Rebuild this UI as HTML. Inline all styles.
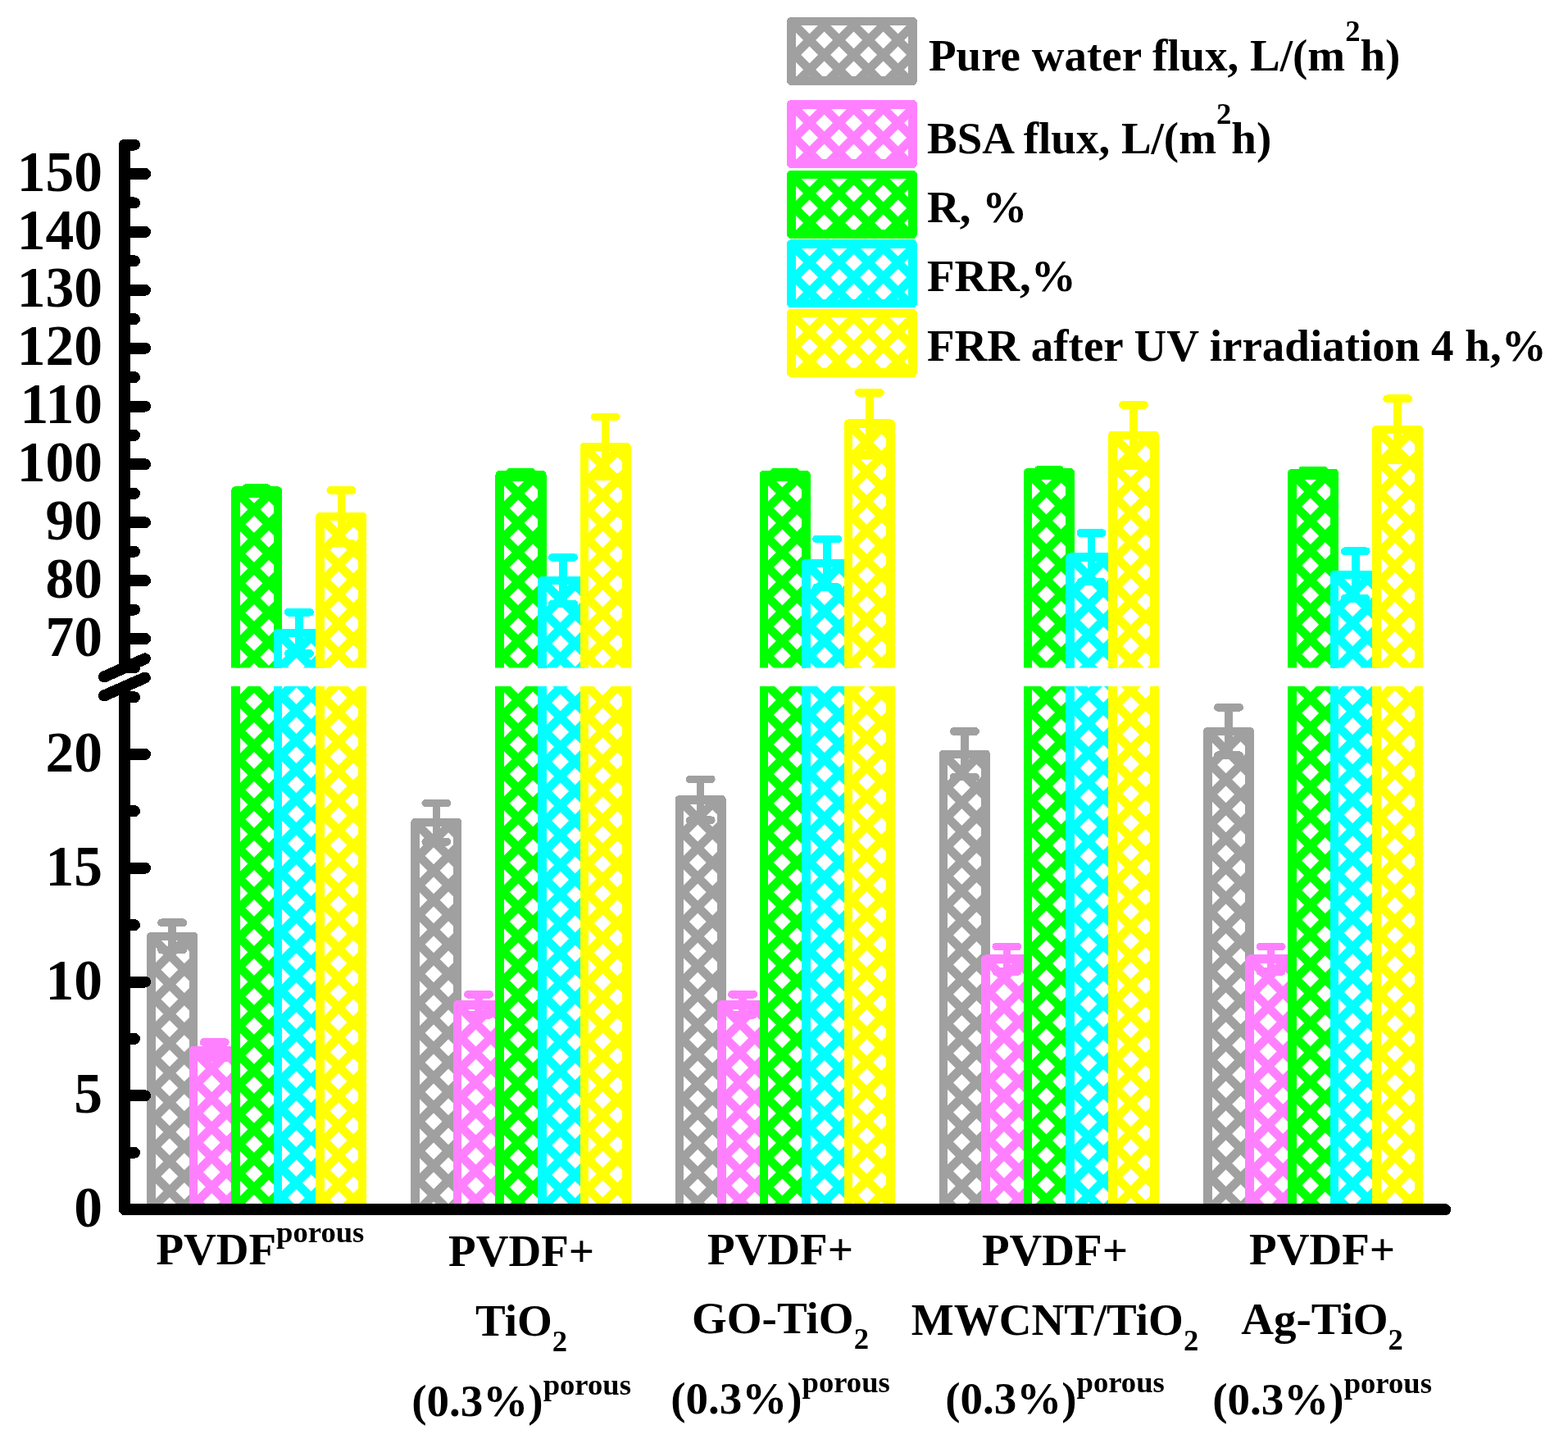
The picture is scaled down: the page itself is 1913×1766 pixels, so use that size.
<!DOCTYPE html>
<html><head><meta charset="utf-8"><title>Chart</title>
<style>html,body{margin:0;padding:0;background:#fff;}svg{display:block;}</style>
</head><body>
<svg shape-rendering="crispEdges" width="1913" height="1766" viewBox="0 0 1913 1766" font-family="'Liberation Serif', 'Times New Roman', serif" font-weight="bold">
<defs>
<pattern id="p00" patternUnits="userSpaceOnUse" x="22.549" y="10.069" width="25.4558" height="25.4558" patternTransform="rotate(45)"><rect width="25.4558" height="25.4558" fill="#fff"/><rect width="25.4558" height="10.6" fill="#a0a0a0"/><rect width="10.6" height="25.4558" fill="#a0a0a0"/></pattern><pattern id="p01" patternUnits="userSpaceOnUse" x="4.447" y="20.888" width="25.4558" height="25.4558" patternTransform="rotate(45)"><rect width="25.4558" height="25.4558" fill="#fff"/><rect width="25.4558" height="10.6" fill="#ff80ff"/><rect width="10.6" height="25.4558" fill="#ff80ff"/></pattern><pattern id="p02" patternUnits="userSpaceOnUse" x="16.725" y="11.174" width="25.4558" height="25.4558" patternTransform="rotate(45)"><rect width="25.4558" height="25.4558" fill="#fff"/><rect width="25.4558" height="10.6" fill="#00ff00"/><rect width="10.6" height="25.4558" fill="#00ff00"/></pattern><pattern id="p03" patternUnits="userSpaceOnUse" x="22.975" y="20.889" width="25.4558" height="25.4558" patternTransform="rotate(45)"><rect width="25.4558" height="25.4558" fill="#fff"/><rect width="25.4558" height="10.6" fill="#00ffff"/><rect width="10.6" height="25.4558" fill="#00ffff"/></pattern><pattern id="p04" patternUnits="userSpaceOnUse" x="10.106" y="11.485" width="25.4558" height="25.4558" patternTransform="rotate(45)"><rect width="25.4558" height="25.4558" fill="#fff"/><rect width="25.4558" height="10.6" fill="#ffff00"/><rect width="10.6" height="25.4558" fill="#ffff00"/></pattern><pattern id="p10" patternUnits="userSpaceOnUse" x="24.918" y="14.983" width="25.4558" height="25.4558" patternTransform="rotate(45)"><rect width="25.4558" height="25.4558" fill="#fff"/><rect width="25.4558" height="10.6" fill="#a0a0a0"/><rect width="10.6" height="25.4558" fill="#a0a0a0"/></pattern><pattern id="p11" patternUnits="userSpaceOnUse" x="14.814" y="8.344" width="25.4558" height="25.4558" patternTransform="rotate(45)"><rect width="25.4558" height="25.4558" fill="#fff"/><rect width="25.4558" height="10.6" fill="#ff80ff"/><rect width="10.6" height="25.4558" fill="#ff80ff"/></pattern><pattern id="p12" patternUnits="userSpaceOnUse" x="1.670" y="24.121" width="25.4558" height="25.4558" patternTransform="rotate(45)"><rect width="25.4558" height="25.4558" fill="#fff"/><rect width="25.4558" height="10.6" fill="#00ff00"/><rect width="10.6" height="25.4558" fill="#00ff00"/></pattern><pattern id="p13" patternUnits="userSpaceOnUse" x="2.054" y="2.514" width="25.4558" height="25.4558" patternTransform="rotate(45)"><rect width="25.4558" height="25.4558" fill="#fff"/><rect width="25.4558" height="10.6" fill="#00ffff"/><rect width="10.6" height="25.4558" fill="#00ffff"/></pattern><pattern id="p14" patternUnits="userSpaceOnUse" x="25.061" y="3.530" width="25.4558" height="25.4558" patternTransform="rotate(45)"><rect width="25.4558" height="25.4558" fill="#fff"/><rect width="25.4558" height="10.6" fill="#ffff00"/><rect width="10.6" height="25.4558" fill="#ffff00"/></pattern><pattern id="p20" patternUnits="userSpaceOnUse" x="4.009" y="22.076" width="25.4558" height="25.4558" patternTransform="rotate(45)"><rect width="25.4558" height="25.4558" fill="#fff"/><rect width="25.4558" height="10.6" fill="#a0a0a0"/><rect width="10.6" height="25.4558" fill="#a0a0a0"/></pattern><pattern id="p21" patternUnits="userSpaceOnUse" x="13.541" y="9.616" width="25.4558" height="25.4558" patternTransform="rotate(45)"><rect width="25.4558" height="25.4558" fill="#fff"/><rect width="25.4558" height="10.6" fill="#ff80ff"/><rect width="10.6" height="25.4558" fill="#ff80ff"/></pattern><pattern id="p22" patternUnits="userSpaceOnUse" x="0.398" y="25.394" width="25.4558" height="25.4558" patternTransform="rotate(45)"><rect width="25.4558" height="25.4558" fill="#fff"/><rect width="25.4558" height="10.6" fill="#00ff00"/><rect width="10.6" height="25.4558" fill="#00ff00"/></pattern><pattern id="p23" patternUnits="userSpaceOnUse" x="11.202" y="14.207" width="25.4558" height="25.4558" patternTransform="rotate(45)"><rect width="25.4558" height="25.4558" fill="#fff"/><rect width="25.4558" height="10.6" fill="#00ffff"/><rect width="10.6" height="25.4558" fill="#00ffff"/></pattern><pattern id="p24" patternUnits="userSpaceOnUse" x="3.742" y="10.212" width="25.4558" height="25.4558" patternTransform="rotate(45)"><rect width="25.4558" height="25.4558" fill="#fff"/><rect width="25.4558" height="10.6" fill="#ffff00"/><rect width="10.6" height="25.4558" fill="#ffff00"/></pattern><pattern id="p30" patternUnits="userSpaceOnUse" x="14.375" y="9.532" width="25.4558" height="25.4558" patternTransform="rotate(45)"><rect width="25.4558" height="25.4558" fill="#fff"/><rect width="25.4558" height="10.6" fill="#a0a0a0"/><rect width="10.6" height="25.4558" fill="#a0a0a0"/></pattern><pattern id="p31" patternUnits="userSpaceOnUse" x="23.907" y="22.528" width="25.4558" height="25.4558" patternTransform="rotate(45)"><rect width="25.4558" height="25.4558" fill="#fff"/><rect width="25.4558" height="10.6" fill="#ff80ff"/><rect width="10.6" height="25.4558" fill="#ff80ff"/></pattern><pattern id="p32" patternUnits="userSpaceOnUse" x="22.576" y="24.662" width="25.4558" height="25.4558" patternTransform="rotate(45)"><rect width="25.4558" height="25.4558" fill="#fff"/><rect width="25.4558" height="10.6" fill="#00ff00"/><rect width="10.6" height="25.4558" fill="#00ff00"/></pattern><pattern id="p33" patternUnits="userSpaceOnUse" x="4.918" y="10.468" width="25.4558" height="25.4558" patternTransform="rotate(45)"><rect width="25.4558" height="25.4558" fill="#fff"/><rect width="25.4558" height="10.6" fill="#00ffff"/><rect width="10.6" height="25.4558" fill="#00ffff"/></pattern><pattern id="p34" patternUnits="userSpaceOnUse" x="12.493" y="21.508" width="25.4558" height="25.4558" patternTransform="rotate(45)"><rect width="25.4558" height="25.4558" fill="#fff"/><rect width="25.4558" height="10.6" fill="#ffff00"/><rect width="10.6" height="25.4558" fill="#ffff00"/></pattern><pattern id="p40" patternUnits="userSpaceOnUse" x="18.922" y="16.624" width="25.4558" height="25.4558" patternTransform="rotate(45)"><rect width="25.4558" height="25.4558" fill="#fff"/><rect width="25.4558" height="10.6" fill="#a0a0a0"/><rect width="10.6" height="25.4558" fill="#a0a0a0"/></pattern><pattern id="p41" patternUnits="userSpaceOnUse" x="22.634" y="23.801" width="25.4558" height="25.4558" patternTransform="rotate(45)"><rect width="25.4558" height="25.4558" fill="#fff"/><rect width="25.4558" height="10.6" fill="#ff80ff"/><rect width="10.6" height="25.4558" fill="#ff80ff"/></pattern><pattern id="p42" patternUnits="userSpaceOnUse" x="21.804" y="0.980" width="25.4558" height="25.4558" patternTransform="rotate(45)"><rect width="25.4558" height="25.4558" fill="#fff"/><rect width="25.4558" height="10.6" fill="#00ff00"/><rect width="10.6" height="25.4558" fill="#00ff00"/></pattern><pattern id="p43" patternUnits="userSpaceOnUse" x="18.680" y="1.320" width="25.4558" height="25.4558" patternTransform="rotate(45)"><rect width="25.4558" height="25.4558" fill="#fff"/><rect width="25.4558" height="10.6" fill="#00ffff"/><rect width="10.6" height="25.4558" fill="#00ffff"/></pattern><pattern id="p44" patternUnits="userSpaceOnUse" x="6.208" y="17.769" width="25.4558" height="25.4558" patternTransform="rotate(45)"><rect width="25.4558" height="25.4558" fill="#fff"/><rect width="25.4558" height="10.6" fill="#ffff00"/><rect width="10.6" height="25.4558" fill="#ffff00"/></pattern><pattern id="l0" patternUnits="userSpaceOnUse" x="14.782" y="18.105" width="25.4558" height="25.4558" patternTransform="rotate(45)"><rect width="25.4558" height="25.4558" fill="#fff"/><rect width="25.4558" height="10.6" fill="#a0a0a0"/><rect width="10.6" height="25.4558" fill="#a0a0a0"/></pattern><pattern id="l1" patternUnits="userSpaceOnUse" x="9.903" y="13.226" width="25.4558" height="25.4558" patternTransform="rotate(45)"><rect width="25.4558" height="25.4558" fill="#fff"/><rect width="25.4558" height="10.6" fill="#ff80ff"/><rect width="10.6" height="25.4558" fill="#ff80ff"/></pattern><pattern id="l2" patternUnits="userSpaceOnUse" x="19.732" y="23.055" width="25.4558" height="25.4558" patternTransform="rotate(45)"><rect width="25.4558" height="25.4558" fill="#fff"/><rect width="25.4558" height="10.6" fill="#00ff00"/><rect width="10.6" height="25.4558" fill="#00ff00"/></pattern><pattern id="l3" patternUnits="userSpaceOnUse" x="3.044" y="6.367" width="25.4558" height="25.4558" patternTransform="rotate(45)"><rect width="25.4558" height="25.4558" fill="#fff"/><rect width="25.4558" height="10.6" fill="#00ffff"/><rect width="10.6" height="25.4558" fill="#00ffff"/></pattern><pattern id="l4" patternUnits="userSpaceOnUse" x="11.953" y="15.277" width="25.4558" height="25.4558" patternTransform="rotate(45)"><rect width="25.4558" height="25.4558" fill="#fff"/><rect width="25.4558" height="10.6" fill="#ffff00"/><rect width="10.6" height="25.4558" fill="#ffff00"/></pattern>
<clipPath id="cu"><rect x="0" y="0" width="1913" height="814.44"/></clipPath>
<clipPath id="cl"><rect x="0" y="837" width="1913" height="1766"/></clipPath>
</defs>
<rect width="1913" height="1766" fill="#fff"/>
<g clip-path="url(#cu)"><rect x="184.43" y="1141.96" width="51.55" height="333.24" fill="url(#p00)" stroke="#a0a0a0" stroke-width="10.6" stroke-linejoin="round"/><path d="M210.20,1125.30V1158.62M197.05,1125.30H223.35M197.05,1158.62H223.35" stroke="#a0a0a0" stroke-width="9.7" stroke-linecap="round" fill="none"/><rect x="235.98" y="1280.81" width="51.55" height="194.39" fill="url(#p01)" stroke="#ff80ff" stroke-width="10.6" stroke-linejoin="round"/><path d="M261.75,1271.09V1290.53M248.60,1271.09H274.90M248.60,1290.53H274.90" stroke="#ff80ff" stroke-width="9.7" stroke-linecap="round" fill="none"/><rect x="287.52" y="598.62" width="51.55" height="876.58" fill="url(#p02)" stroke="#00ff00" stroke-width="10.6" stroke-linejoin="round"/><path d="M313.30,595.22V602.03M300.15,595.22H326.45M300.15,602.03H326.45" stroke="#00ff00" stroke-width="9.7" stroke-linecap="round" fill="none"/><rect x="339.07" y="771.91" width="51.55" height="703.29" fill="url(#p03)" stroke="#00ffff" stroke-width="10.6" stroke-linejoin="round"/><path d="M364.85,746.75V797.07M351.70,746.75H378.00M351.70,797.07H378.00" stroke="#00ffff" stroke-width="9.7" stroke-linecap="round" fill="none"/><rect x="390.62" y="630.16" width="51.55" height="845.04" fill="url(#p04)" stroke="#ffff00" stroke-width="10.6" stroke-linejoin="round"/><path d="M416.40,597.91V662.41M403.25,597.91H429.55M403.25,662.41H429.55" stroke="#ffff00" stroke-width="9.7" stroke-linecap="round" fill="none"/><rect x="506.62" y="1003.11" width="51.55" height="472.09" fill="url(#p10)" stroke="#a0a0a0" stroke-width="10.6" stroke-linejoin="round"/><path d="M532.40,979.51V1026.71M519.25,979.51H545.55M519.25,1026.71H545.55" stroke="#a0a0a0" stroke-width="9.7" stroke-linecap="round" fill="none"/><rect x="558.17" y="1225.27" width="51.55" height="249.93" fill="url(#p11)" stroke="#ff80ff" stroke-width="10.6" stroke-linejoin="round"/><path d="M583.95,1212.77V1237.77M570.80,1212.77H597.10M570.80,1237.77H597.10" stroke="#ff80ff" stroke-width="9.7" stroke-linecap="round" fill="none"/><rect x="609.73" y="579.13" width="51.55" height="896.07" fill="url(#p12)" stroke="#00ff00" stroke-width="10.6" stroke-linejoin="round"/><path d="M635.50,575.66V582.61M622.35,575.66H648.65M622.35,582.61H648.65" stroke="#00ff00" stroke-width="9.7" stroke-linecap="round" fill="none"/><rect x="661.27" y="708.12" width="51.55" height="767.08" fill="url(#p13)" stroke="#00ffff" stroke-width="10.6" stroke-linejoin="round"/><path d="M687.05,679.78V736.48M673.90,679.78H700.20M673.90,736.48H700.20" stroke="#00ffff" stroke-width="9.7" stroke-linecap="round" fill="none"/><rect x="712.83" y="545.11" width="51.55" height="930.09" fill="url(#p14)" stroke="#ffff00" stroke-width="10.6" stroke-linejoin="round"/><path d="M738.60,508.61V581.61M725.45,508.61H751.75M725.45,581.61H751.75" stroke="#ffff00" stroke-width="9.7" stroke-linecap="round" fill="none"/><rect x="828.83" y="975.34" width="51.55" height="499.86" fill="url(#p20)" stroke="#a0a0a0" stroke-width="10.6" stroke-linejoin="round"/><path d="M854.60,950.35V1000.33M841.45,950.35H867.75M841.45,1000.33H867.75" stroke="#a0a0a0" stroke-width="9.7" stroke-linecap="round" fill="none"/><rect x="880.38" y="1225.27" width="51.55" height="249.93" fill="url(#p21)" stroke="#ff80ff" stroke-width="10.6" stroke-linejoin="round"/><path d="M906.15,1212.77V1237.77M893.00,1212.77H919.30M893.00,1237.77H919.30" stroke="#ff80ff" stroke-width="9.7" stroke-linecap="round" fill="none"/><rect x="931.93" y="579.13" width="51.55" height="896.07" fill="url(#p22)" stroke="#00ff00" stroke-width="10.6" stroke-linejoin="round"/><path d="M957.70,575.66V582.61M944.55,575.66H970.85M944.55,582.61H970.85" stroke="#00ff00" stroke-width="9.7" stroke-linecap="round" fill="none"/><rect x="983.48" y="686.86" width="51.55" height="788.34" fill="url(#p23)" stroke="#00ffff" stroke-width="10.6" stroke-linejoin="round"/><path d="M1009.25,657.45V716.28M996.10,657.45H1022.40M996.10,716.28H1022.40" stroke="#00ffff" stroke-width="9.7" stroke-linecap="round" fill="none"/><rect x="1035.03" y="516.76" width="51.55" height="958.44" fill="url(#p24)" stroke="#ffff00" stroke-width="10.6" stroke-linejoin="round"/><path d="M1060.80,478.84V554.68M1047.65,478.84H1073.95M1047.65,554.68H1073.95" stroke="#ffff00" stroke-width="9.7" stroke-linecap="round" fill="none"/><rect x="1151.02" y="919.80" width="51.55" height="555.40" fill="url(#p30)" stroke="#a0a0a0" stroke-width="10.6" stroke-linejoin="round"/><path d="M1176.80,892.03V947.57M1163.65,892.03H1189.95M1163.65,947.57H1189.95" stroke="#a0a0a0" stroke-width="9.7" stroke-linecap="round" fill="none"/><rect x="1202.57" y="1169.73" width="51.55" height="305.47" fill="url(#p31)" stroke="#ff80ff" stroke-width="10.6" stroke-linejoin="round"/><path d="M1228.35,1154.46V1185.00M1215.20,1154.46H1241.50M1215.20,1185.00H1241.50" stroke="#ff80ff" stroke-width="9.7" stroke-linecap="round" fill="none"/><rect x="1254.12" y="576.30" width="51.55" height="898.90" fill="url(#p32)" stroke="#00ff00" stroke-width="10.6" stroke-linejoin="round"/><path d="M1279.90,572.82V579.77M1266.75,572.82H1293.05M1266.75,579.77H1293.05" stroke="#00ff00" stroke-width="9.7" stroke-linecap="round" fill="none"/><rect x="1305.67" y="679.78" width="51.55" height="795.42" fill="url(#p33)" stroke="#00ffff" stroke-width="10.6" stroke-linejoin="round"/><path d="M1331.45,650.01V709.54M1318.30,650.01H1344.60M1318.30,709.54H1344.60" stroke="#00ffff" stroke-width="9.7" stroke-linecap="round" fill="none"/><rect x="1357.22" y="530.94" width="51.55" height="944.26" fill="url(#p34)" stroke="#ffff00" stroke-width="10.6" stroke-linejoin="round"/><path d="M1383.00,493.73V568.15M1369.85,493.73H1396.15M1369.85,568.15H1396.15" stroke="#ffff00" stroke-width="9.7" stroke-linecap="round" fill="none"/><rect x="1473.22" y="892.03" width="51.55" height="583.17" fill="url(#p40)" stroke="#a0a0a0" stroke-width="10.6" stroke-linejoin="round"/><path d="M1499.00,862.87V921.19M1485.85,862.87H1512.15M1485.85,921.19H1512.15" stroke="#a0a0a0" stroke-width="9.7" stroke-linecap="round" fill="none"/><rect x="1524.77" y="1169.73" width="51.55" height="305.47" fill="url(#p41)" stroke="#ff80ff" stroke-width="10.6" stroke-linejoin="round"/><path d="M1550.55,1154.46V1185.00M1537.40,1154.46H1563.70M1537.40,1185.00H1563.70" stroke="#ff80ff" stroke-width="9.7" stroke-linecap="round" fill="none"/><rect x="1576.32" y="577.01" width="51.55" height="898.19" fill="url(#p42)" stroke="#00ff00" stroke-width="10.6" stroke-linejoin="round"/><path d="M1602.10,573.53V580.48M1588.95,573.53H1615.25M1588.95,580.48H1615.25" stroke="#00ff00" stroke-width="9.7" stroke-linecap="round" fill="none"/><rect x="1627.88" y="701.04" width="51.55" height="774.16" fill="url(#p43)" stroke="#00ffff" stroke-width="10.6" stroke-linejoin="round"/><path d="M1653.65,672.33V729.74M1640.50,672.33H1666.80M1640.50,729.74H1666.80" stroke="#00ffff" stroke-width="9.7" stroke-linecap="round" fill="none"/><rect x="1679.42" y="523.85" width="51.55" height="951.35" fill="url(#p44)" stroke="#ffff00" stroke-width="10.6" stroke-linejoin="round"/><path d="M1705.20,486.29V561.41M1692.05,486.29H1718.35M1692.05,561.41H1718.35" stroke="#ffff00" stroke-width="9.7" stroke-linecap="round" fill="none"/></g>
<g clip-path="url(#cl)"><rect x="184.43" y="1141.96" width="51.55" height="333.24" fill="url(#p00)" stroke="#a0a0a0" stroke-width="10.6" stroke-linejoin="round"/><path d="M210.20,1125.30V1158.62M197.05,1125.30H223.35M197.05,1158.62H223.35" stroke="#a0a0a0" stroke-width="9.7" stroke-linecap="round" fill="none"/><rect x="235.98" y="1280.81" width="51.55" height="194.39" fill="url(#p01)" stroke="#ff80ff" stroke-width="10.6" stroke-linejoin="round"/><path d="M261.75,1271.09V1290.53M248.60,1271.09H274.90M248.60,1290.53H274.90" stroke="#ff80ff" stroke-width="9.7" stroke-linecap="round" fill="none"/><rect x="287.52" y="598.62" width="51.55" height="876.58" fill="url(#p02)" stroke="#00ff00" stroke-width="10.6" stroke-linejoin="round"/><path d="M313.30,595.22V602.03M300.15,595.22H326.45M300.15,602.03H326.45" stroke="#00ff00" stroke-width="9.7" stroke-linecap="round" fill="none"/><rect x="339.07" y="771.91" width="51.55" height="703.29" fill="url(#p03)" stroke="#00ffff" stroke-width="10.6" stroke-linejoin="round"/><path d="M364.85,746.75V797.07M351.70,746.75H378.00M351.70,797.07H378.00" stroke="#00ffff" stroke-width="9.7" stroke-linecap="round" fill="none"/><rect x="390.62" y="630.16" width="51.55" height="845.04" fill="url(#p04)" stroke="#ffff00" stroke-width="10.6" stroke-linejoin="round"/><path d="M416.40,597.91V662.41M403.25,597.91H429.55M403.25,662.41H429.55" stroke="#ffff00" stroke-width="9.7" stroke-linecap="round" fill="none"/><rect x="506.62" y="1003.11" width="51.55" height="472.09" fill="url(#p10)" stroke="#a0a0a0" stroke-width="10.6" stroke-linejoin="round"/><path d="M532.40,979.51V1026.71M519.25,979.51H545.55M519.25,1026.71H545.55" stroke="#a0a0a0" stroke-width="9.7" stroke-linecap="round" fill="none"/><rect x="558.17" y="1225.27" width="51.55" height="249.93" fill="url(#p11)" stroke="#ff80ff" stroke-width="10.6" stroke-linejoin="round"/><path d="M583.95,1212.77V1237.77M570.80,1212.77H597.10M570.80,1237.77H597.10" stroke="#ff80ff" stroke-width="9.7" stroke-linecap="round" fill="none"/><rect x="609.73" y="579.13" width="51.55" height="896.07" fill="url(#p12)" stroke="#00ff00" stroke-width="10.6" stroke-linejoin="round"/><path d="M635.50,575.66V582.61M622.35,575.66H648.65M622.35,582.61H648.65" stroke="#00ff00" stroke-width="9.7" stroke-linecap="round" fill="none"/><rect x="661.27" y="708.12" width="51.55" height="767.08" fill="url(#p13)" stroke="#00ffff" stroke-width="10.6" stroke-linejoin="round"/><path d="M687.05,679.78V736.48M673.90,679.78H700.20M673.90,736.48H700.20" stroke="#00ffff" stroke-width="9.7" stroke-linecap="round" fill="none"/><rect x="712.83" y="545.11" width="51.55" height="930.09" fill="url(#p14)" stroke="#ffff00" stroke-width="10.6" stroke-linejoin="round"/><path d="M738.60,508.61V581.61M725.45,508.61H751.75M725.45,581.61H751.75" stroke="#ffff00" stroke-width="9.7" stroke-linecap="round" fill="none"/><rect x="828.83" y="975.34" width="51.55" height="499.86" fill="url(#p20)" stroke="#a0a0a0" stroke-width="10.6" stroke-linejoin="round"/><path d="M854.60,950.35V1000.33M841.45,950.35H867.75M841.45,1000.33H867.75" stroke="#a0a0a0" stroke-width="9.7" stroke-linecap="round" fill="none"/><rect x="880.38" y="1225.27" width="51.55" height="249.93" fill="url(#p21)" stroke="#ff80ff" stroke-width="10.6" stroke-linejoin="round"/><path d="M906.15,1212.77V1237.77M893.00,1212.77H919.30M893.00,1237.77H919.30" stroke="#ff80ff" stroke-width="9.7" stroke-linecap="round" fill="none"/><rect x="931.93" y="579.13" width="51.55" height="896.07" fill="url(#p22)" stroke="#00ff00" stroke-width="10.6" stroke-linejoin="round"/><path d="M957.70,575.66V582.61M944.55,575.66H970.85M944.55,582.61H970.85" stroke="#00ff00" stroke-width="9.7" stroke-linecap="round" fill="none"/><rect x="983.48" y="686.86" width="51.55" height="788.34" fill="url(#p23)" stroke="#00ffff" stroke-width="10.6" stroke-linejoin="round"/><path d="M1009.25,657.45V716.28M996.10,657.45H1022.40M996.10,716.28H1022.40" stroke="#00ffff" stroke-width="9.7" stroke-linecap="round" fill="none"/><rect x="1035.03" y="516.76" width="51.55" height="958.44" fill="url(#p24)" stroke="#ffff00" stroke-width="10.6" stroke-linejoin="round"/><path d="M1060.80,478.84V554.68M1047.65,478.84H1073.95M1047.65,554.68H1073.95" stroke="#ffff00" stroke-width="9.7" stroke-linecap="round" fill="none"/><rect x="1151.02" y="919.80" width="51.55" height="555.40" fill="url(#p30)" stroke="#a0a0a0" stroke-width="10.6" stroke-linejoin="round"/><path d="M1176.80,892.03V947.57M1163.65,892.03H1189.95M1163.65,947.57H1189.95" stroke="#a0a0a0" stroke-width="9.7" stroke-linecap="round" fill="none"/><rect x="1202.57" y="1169.73" width="51.55" height="305.47" fill="url(#p31)" stroke="#ff80ff" stroke-width="10.6" stroke-linejoin="round"/><path d="M1228.35,1154.46V1185.00M1215.20,1154.46H1241.50M1215.20,1185.00H1241.50" stroke="#ff80ff" stroke-width="9.7" stroke-linecap="round" fill="none"/><rect x="1254.12" y="576.30" width="51.55" height="898.90" fill="url(#p32)" stroke="#00ff00" stroke-width="10.6" stroke-linejoin="round"/><path d="M1279.90,572.82V579.77M1266.75,572.82H1293.05M1266.75,579.77H1293.05" stroke="#00ff00" stroke-width="9.7" stroke-linecap="round" fill="none"/><rect x="1305.67" y="679.78" width="51.55" height="795.42" fill="url(#p33)" stroke="#00ffff" stroke-width="10.6" stroke-linejoin="round"/><path d="M1331.45,650.01V709.54M1318.30,650.01H1344.60M1318.30,709.54H1344.60" stroke="#00ffff" stroke-width="9.7" stroke-linecap="round" fill="none"/><rect x="1357.22" y="530.94" width="51.55" height="944.26" fill="url(#p34)" stroke="#ffff00" stroke-width="10.6" stroke-linejoin="round"/><path d="M1383.00,493.73V568.15M1369.85,493.73H1396.15M1369.85,568.15H1396.15" stroke="#ffff00" stroke-width="9.7" stroke-linecap="round" fill="none"/><rect x="1473.22" y="892.03" width="51.55" height="583.17" fill="url(#p40)" stroke="#a0a0a0" stroke-width="10.6" stroke-linejoin="round"/><path d="M1499.00,862.87V921.19M1485.85,862.87H1512.15M1485.85,921.19H1512.15" stroke="#a0a0a0" stroke-width="9.7" stroke-linecap="round" fill="none"/><rect x="1524.77" y="1169.73" width="51.55" height="305.47" fill="url(#p41)" stroke="#ff80ff" stroke-width="10.6" stroke-linejoin="round"/><path d="M1550.55,1154.46V1185.00M1537.40,1154.46H1563.70M1537.40,1185.00H1563.70" stroke="#ff80ff" stroke-width="9.7" stroke-linecap="round" fill="none"/><rect x="1576.32" y="577.01" width="51.55" height="898.19" fill="url(#p42)" stroke="#00ff00" stroke-width="10.6" stroke-linejoin="round"/><path d="M1602.10,573.53V580.48M1588.95,573.53H1615.25M1588.95,580.48H1615.25" stroke="#00ff00" stroke-width="9.7" stroke-linecap="round" fill="none"/><rect x="1627.88" y="701.04" width="51.55" height="774.16" fill="url(#p43)" stroke="#00ffff" stroke-width="10.6" stroke-linejoin="round"/><path d="M1653.65,672.33V729.74M1640.50,672.33H1666.80M1640.50,729.74H1666.80" stroke="#00ffff" stroke-width="9.7" stroke-linecap="round" fill="none"/><rect x="1679.42" y="523.85" width="51.55" height="951.35" fill="url(#p44)" stroke="#ffff00" stroke-width="10.6" stroke-linejoin="round"/><path d="M1705.20,486.29V561.41M1692.05,486.29H1718.35M1692.05,561.41H1718.35" stroke="#ffff00" stroke-width="9.7" stroke-linecap="round" fill="none"/></g>
<path d="M152,176.56V814.44" stroke="#000" stroke-width="14" stroke-linecap="round" fill="none"/><path d="M152,836.49V1475.20H1763.20" stroke="#000" stroke-width="14" stroke-linejoin="round" fill="none"/><path d="M1763.20,1475.20h0.01" stroke="#000" stroke-width="14" stroke-linecap="round"/><path d="M152,814.44h12M152,779.00h25M152,743.56h12M152,708.12h25M152,672.69h12M152,637.25h25M152,601.81h12M152,566.38h25M152,530.94h12M152,495.50h25M152,460.06h12M152,424.62h25M152,389.19h12M152,353.75h25M152,318.31h12M152,282.88h25M152,247.44h12M152,212.00h25M152,176.56h12M152,1475.20h25M152,1405.78h12M152,1336.35h25M152,1266.92h12M152,1197.50h25M152,1128.08h12M152,1058.65h25M152,989.23h12M152,919.80h25M152,850.38h12" stroke="#000" stroke-width="14" stroke-linecap="round" fill="none"/><path d="M126.9,825.5L176.9,803.4M126.9,848.5L176.9,826.5" stroke="#000" stroke-width="14" stroke-linecap="round" fill="none"/>
<text x="124.9" y="799.7" font-size="69.5" text-anchor="end">70</text><text x="124.9" y="728.8" font-size="69.5" text-anchor="end">80</text><text x="124.9" y="658.0" font-size="69.5" text-anchor="end">90</text><text x="124.9" y="587.1" font-size="69.5" text-anchor="end">100</text><text x="124.9" y="516.2" font-size="69.5" text-anchor="end">110</text><text x="124.9" y="445.3" font-size="69.5" text-anchor="end">120</text><text x="124.9" y="374.4" font-size="69.5" text-anchor="end">130</text><text x="124.9" y="303.6" font-size="69.5" text-anchor="end">140</text><text x="124.9" y="232.7" font-size="69.5" text-anchor="end">150</text><text x="124.9" y="1496.2" font-size="69.5" text-anchor="end">0</text><text x="124.9" y="1357.4" font-size="69.5" text-anchor="end">5</text><text x="124.9" y="1218.5" font-size="69.5" text-anchor="end">10</text><text x="124.9" y="1079.7" font-size="69.5" text-anchor="end">15</text><text x="124.9" y="940.8" font-size="69.5" text-anchor="end">20</text>
<text x="317.4" y="1542.2" font-size="55" text-anchor="middle">PVDF<tspan font-size="36.67" dy="-27">porous</tspan></text><text x="636.1" y="1544.1" font-size="55" text-anchor="middle">PVDF+</text><text x="636.1" y="1629.1" font-size="55" text-anchor="middle">TiO<tspan font-size="36.67" dy="19">2</tspan></text><text x="636.1" y="1726.6" font-size="55" text-anchor="middle">(0.3%)<tspan font-size="36.67" dy="-26">porous</tspan></text><text x="952.0" y="1542.2" font-size="55" text-anchor="middle">PVDF+</text><text x="952.0" y="1626.3" font-size="55" text-anchor="middle">GO-TiO<tspan font-size="36.67" dy="19">2</tspan></text><text x="952.0" y="1723.8" font-size="55" text-anchor="middle">(0.3%)<tspan font-size="36.67" dy="-26">porous</tspan></text><text x="1287.0" y="1543.2" font-size="55" text-anchor="middle">PVDF+</text><text x="1287.0" y="1628.1" font-size="55" text-anchor="middle">MWCNT/TiO<tspan font-size="36.67" dy="19">2</tspan></text><text x="1287.0" y="1724.4" font-size="55" text-anchor="middle">(0.3%)<tspan font-size="36.67" dy="-26">porous</tspan></text><text x="1613.1" y="1542.2" font-size="55" text-anchor="middle">PVDF+</text><text x="1613.1" y="1626.9" font-size="55" text-anchor="middle">Ag-TiO<tspan font-size="36.67" dy="19">2</tspan></text><text x="1613.1" y="1724.5" font-size="55" text-anchor="middle">(0.3%)<tspan font-size="36.67" dy="-26">porous</tspan></text>
<rect x="965.25" y="26.15" width="148.3" height="72.5" fill="url(#l0)" stroke="#a0a0a0" stroke-width="10.6" stroke-linejoin="round"/><rect x="965.25" y="127.25" width="148.3" height="72.5" fill="url(#l1)" stroke="#ff80ff" stroke-width="10.6" stroke-linejoin="round"/><rect x="965.25" y="213.15" width="148.3" height="72.5" fill="url(#l2)" stroke="#00ff00" stroke-width="10.6" stroke-linejoin="round"/><rect x="965.25" y="297.55" width="148.3" height="72.5" fill="url(#l3)" stroke="#00ffff" stroke-width="10.6" stroke-linejoin="round"/><rect x="965.25" y="382.15" width="148.3" height="72.5" fill="url(#l4)" stroke="#ffff00" stroke-width="10.6" stroke-linejoin="round"/><text x="1133" y="85.7" font-size="55">Pure water flux, L/(m<tspan font-size="36.67" dy="-36">2</tspan><tspan dy="36">h)</tspan></text><text x="1131" y="186.5" font-size="55">BSA flux, L/(m<tspan font-size="36.67" dy="-36">2</tspan><tspan dy="36">h)</tspan></text><text x="1131" y="270.5" font-size="55">R, %</text><text x="1131" y="354.7" font-size="55">FRR,%</text><text x="1131" y="439.5" font-size="55">FRR after UV irradiation 4 h,%</text>
</svg>
</body></html>
